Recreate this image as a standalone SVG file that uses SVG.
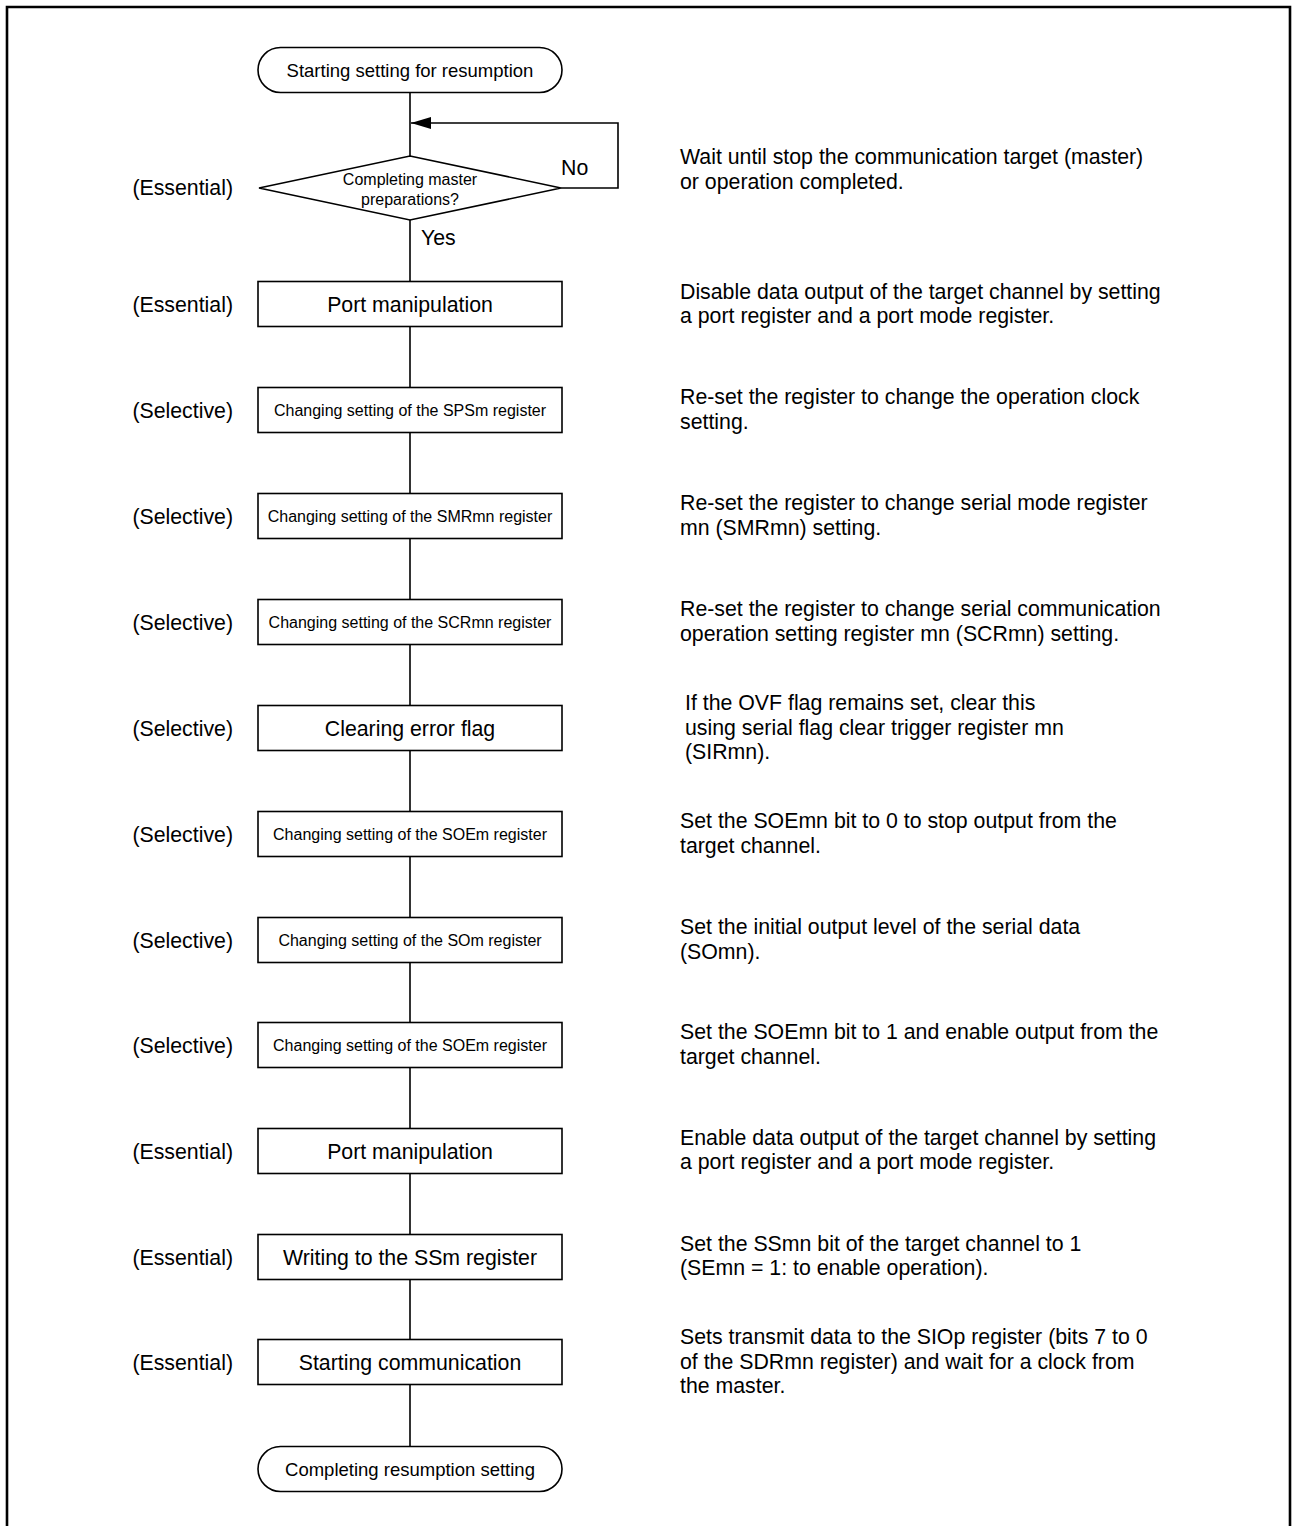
<svg xmlns="http://www.w3.org/2000/svg" width="1292" height="1526" viewBox="0 0 1292 1526">
<defs>
<style>
.b{fill:#fff;stroke:#000;stroke-width:1.6}
.c{fill:none;stroke:#000;stroke-width:1.6}
text{font-family:"Liberation Sans",Arial,sans-serif;fill:#000}
.t21{font-size:21.3px;text-anchor:middle}
.t16{font-size:16px;text-anchor:middle}
.t18{font-size:18.5px;text-anchor:middle}
.lab{font-size:21.3px;text-anchor:end}
.note{font-size:21.3px}
</style>
<marker id="ah" markerUnits="userSpaceOnUse" markerWidth="20" markerHeight="12" refX="20" refY="6" orient="auto">
<path d="M0,0 L20,6 L0,12 z" fill="#000"/>
</marker>
</defs>
<rect x="0" y="0" width="1292" height="1526" fill="#fff"/>
<path d="M7,1526 V7 H1290 V1526" fill="none" stroke="#000" stroke-width="2.6"/>

<g id="connectors">
<path class="c" d="M410,92.5 V156"/>
<path class="c" d="M561,188 H618 V123 H411" marker-end="url(#ah)"/>
<path class="c" d="M410,220 V281.5"/>
<path class="c" d="M410,326.5 V387.5"/>
<path class="c" d="M410,432.5 V493.5"/>
<path class="c" d="M410,538.5 V599.5"/>
<path class="c" d="M410,644.5 V705.5"/>
<path class="c" d="M410,750.5 V811.5"/>
<path class="c" d="M410,856.5 V917.5"/>
<path class="c" d="M410,962.5 V1022.5"/>
<path class="c" d="M410,1067.5 V1128.5"/>
<path class="c" d="M410,1173.5 V1234.5"/>
<path class="c" d="M410,1279.5 V1339.5"/>
<path class="c" d="M410,1384.5 V1446.5"/>
<text class="note" x="561" y="175">No</text>
<text class="note" x="421" y="245">Yes</text>
</g>

<g id="start">
<rect class="b" x="258" y="47.5" width="304" height="45" rx="22.5"/>
<text class="t18" x="410" y="77">Starting setting for resumption</text>
</g>

<g id="decision">
<text class="lab" x="233" y="195">(Essential)</text>
<polygon class="b" points="410,156 561,188 410,220 259,188"/>
<text class="t16" x="410" y="185">Completing master</text>
<text class="t16" x="410" y="205">preparations?</text>
<text class="note" x="680" y="164">Wait until stop the communication target (master)</text>
<text class="note" x="680" y="189">or operation completed.</text>
</g>

<g id="port1">
<text class="lab" x="233" y="311.5">(Essential)</text>
<rect class="b" x="258" y="281.5" width="304" height="45"/>
<text class="t21" x="410" y="311.5">Port manipulation</text>
<text class="note" x="680" y="299">Disable data output of the target channel by setting</text>
<text class="note" x="680" y="323">a port register and a port mode register.</text>
</g>

<g id="sps">
<text class="lab" x="233" y="417.5">(Selective)</text>
<rect class="b" x="258" y="387.5" width="304" height="45"/>
<text class="t16" x="410" y="415.6">Changing setting of the SPSm register</text>
<text class="note" x="680" y="404">Re-set the register to change the operation clock</text>
<text class="note" x="680" y="429">setting.</text>
</g>

<g id="smr">
<text class="lab" x="233" y="523.5">(Selective)</text>
<rect class="b" x="258" y="493.5" width="304" height="45"/>
<text class="t16" x="410" y="521.6">Changing setting of the SMRmn register</text>
<text class="note" x="680" y="510">Re-set the register to change serial mode register</text>
<text class="note" x="680" y="535">mn (SMRmn) setting.</text>
</g>

<g id="scr">
<text class="lab" x="233" y="629.5">(Selective)</text>
<rect class="b" x="258" y="599.5" width="304" height="45"/>
<text class="t16" x="410" y="627.6">Changing setting of the SCRmn register</text>
<text class="note" x="680" y="616">Re-set the register to change serial communication</text>
<text class="note" x="680" y="641">operation setting register mn (SCRmn) setting.</text>
</g>

<g id="clear">
<text class="lab" x="233" y="735.5">(Selective)</text>
<rect class="b" x="258" y="705.5" width="304" height="45"/>
<text class="t21" x="410" y="735.5">Clearing error flag</text>
<text class="note" x="685" y="710">If the OVF flag remains set, clear this</text>
<text class="note" x="685" y="735">using serial flag clear trigger register mn</text>
<text class="note" x="685" y="759">(SIRmn).</text>
</g>

<g id="soe1">
<text class="lab" x="233" y="841.5">(Selective)</text>
<rect class="b" x="258" y="811.5" width="304" height="45"/>
<text class="t16" x="410" y="839.6">Changing setting of the SOEm register</text>
<text class="note" x="680" y="828">Set the SOEmn bit to 0 to stop output from the</text>
<text class="note" x="680" y="853">target channel.</text>
</g>

<g id="so">
<text class="lab" x="233" y="947.5">(Selective)</text>
<rect class="b" x="258" y="917.5" width="304" height="45"/>
<text class="t16" x="410" y="945.6">Changing setting of the SOm register</text>
<text class="note" x="680" y="934">Set the initial output level of the serial data</text>
<text class="note" x="680" y="959">(SOmn).</text>
</g>

<g id="soe2">
<text class="lab" x="233" y="1052.5">(Selective)</text>
<rect class="b" x="258" y="1022.5" width="304" height="45"/>
<text class="t16" x="410" y="1050.6">Changing setting of the SOEm register</text>
<text class="note" x="680" y="1039">Set the SOEmn bit to 1 and enable output from the</text>
<text class="note" x="680" y="1064">target channel.</text>
</g>

<g id="port2">
<text class="lab" x="233" y="1158.5">(Essential)</text>
<rect class="b" x="258" y="1128.5" width="304" height="45"/>
<text class="t21" x="410" y="1158.5">Port manipulation</text>
<text class="note" x="680" y="1145">Enable data output of the target channel by setting</text>
<text class="note" x="680" y="1169">a port register and a port mode register.</text>
</g>

<g id="ss">
<text class="lab" x="233" y="1264.5">(Essential)</text>
<rect class="b" x="258" y="1234.5" width="304" height="45"/>
<text class="t21" x="410" y="1264.5">Writing to the SSm register</text>
<text class="note" x="680" y="1251">Set the SSmn bit of the target channel to 1</text>
<text class="note" x="680" y="1275">(SEmn = 1: to enable operation).</text>
</g>

<g id="startcomm">
<text class="lab" x="233" y="1369.5">(Essential)</text>
<rect class="b" x="258" y="1339.5" width="304" height="45"/>
<text class="t21" x="410" y="1369.5">Starting communication</text>
<text class="note" x="680" y="1344">Sets transmit data to the SIOp register (bits 7 to 0</text>
<text class="note" x="680" y="1369">of the SDRmn register) and wait for a clock from</text>
<text class="note" x="680" y="1393">the master.</text>
</g>

<g id="end">
<rect class="b" x="258" y="1446.5" width="304" height="45" rx="22.5"/>
<text class="t18" x="410" y="1475.5">Completing resumption setting</text>
</g>
</svg>
